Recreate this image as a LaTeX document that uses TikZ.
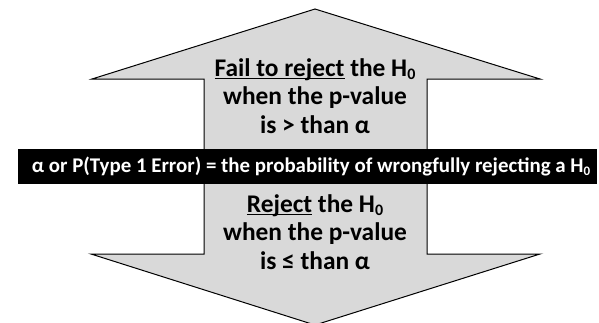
\documentclass[tikz,border=0pt]{standalone}
\usepackage{fontspec}
\setmainfont{Carlito}
\newcommand\myul[1]{\setbox0\hbox{#1}\rlap{\rule[-2.8pt]{\wd0}{1.3pt}}\box0{}}
\newcommand\subz{\raisebox{-3.5pt}{\fontsize{16}{16}\selectfont 0}}
\definecolor{arrowgray}{HTML}{D9D9D9}
\tikzset{
  arrowbody/.style={fill=arrowgray, draw=black, line width=1pt, line join=miter},
  band/.style={fill=black, draw=none},
  armtext/.style={font=\bfseries\fontsize{25.4}{29}\selectfont, inner sep=0pt, anchor=base},
  bandtext/.style={text=white, font=\bfseries\fontsize{20.9}{24}\selectfont, inner sep=0pt}
}
\begin{document}
\begin{tikzpicture}[x=1pt,y=-1pt]
\useasboundingbox (0,0) rectangle (599,322);
\clip (0,0) rectangle (599,322);
\draw[arrowbody] (315,9) -- (540,79) -- (427,79) -- (427,254) -- (540,254) -- (315,325)
  -- (91,254) -- (204,254) -- (204,79) -- (92,79) -- cycle;
\node[band, minimum width=579pt, minimum height=35pt, anchor=north west] (bandbox) at (18,149) {};
\node[bandtext] (bandlabel) at (311,166.5) {α or P(Type 1 Error) = the probability of wrongfully rejecting a H{\fontsize{13}{13}\selectfont\raisebox{-3pt}{0}}};
\node[armtext] (up1) at (315,76) {\myul{Fail to reject} the H\subz};
\node[armtext] (up2) at (315,104.5) {when the p-value};
\node[armtext] (up3) at (315,133) {is > than α};
\node[armtext] (dn1) at (315,212) {\myul{Reject} the H\subz};
\node[armtext] (dn2) at (315,240.5) {when the p-value};
\node[armtext] (dn3) at (315,269.5) {is ≤ than α};
\end{tikzpicture}
\end{document}
